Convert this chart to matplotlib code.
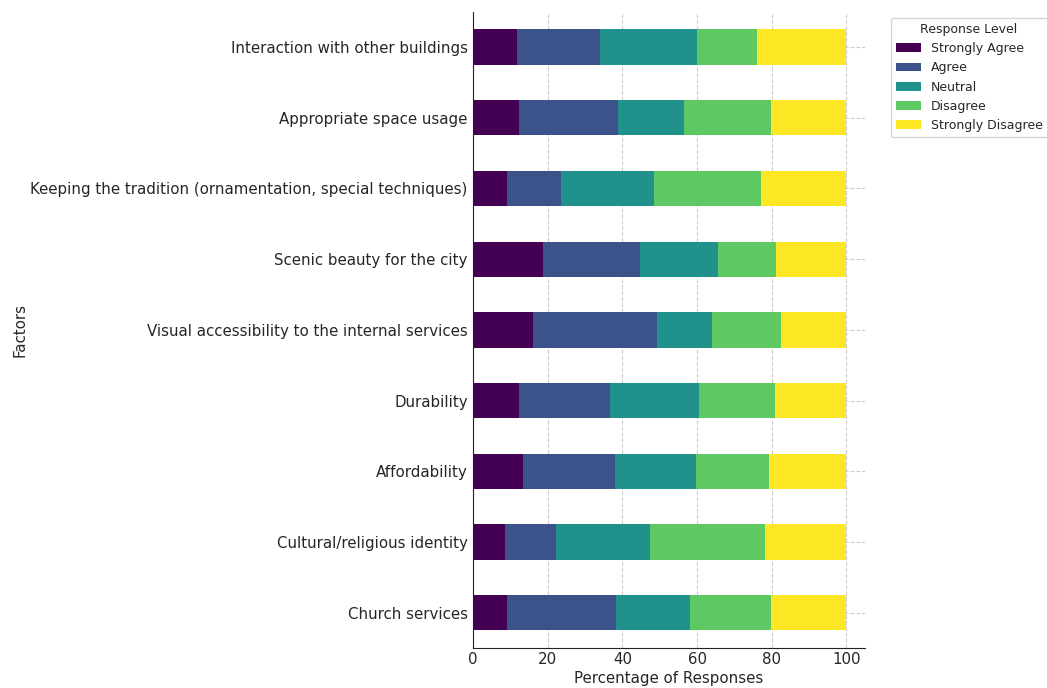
import matplotlib
matplotlib.use("Agg")
import matplotlib.pyplot as plt
import numpy as np

factors = [
    "Church services",
    "Cultural/religious identity",
    "Affordability",
    "Durability",
    "Visual accessibility to the internal services",
    "Scenic beauty for the city",
    "Keeping the tradition (ornamentation, special techniques)",
    "Appropriate space usage",
    "Interaction with other buildings",
]
levels = ["Strongly Agree", "Agree", "Neutral", "Disagree", "Strongly Disagree"]

strongly_agree = [9.1, 8.5, 13.4, 12.2, 16.0, 18.7, 9.1, 12.2, 11.7]
agree = [29.2, 13.8, 24.6, 24.6, 33.2, 26.0, 14.3, 26.6, 22.3]
neutral = [19.8, 25.1, 21.7, 23.7, 14.7, 20.8, 25.0, 17.7, 26.1]
disagree = [21.8, 30.8, 19.7, 20.3, 18.5, 15.8, 28.7, 23.3, 16.1]
strongly_disagree = [20.1, 21.8, 20.6, 19.2, 17.6, 18.7, 22.9, 20.2, 23.8]

series = [strongly_agree, agree, neutral, disagree, strongly_disagree]
colors = ["#440154", "#3b528b", "#21918c", "#5ec962", "#fde725"]

text_color = "#262626"
plt.rcParams["text.color"] = text_color
plt.rcParams["axes.labelcolor"] = text_color
plt.rcParams["xtick.color"] = text_color
plt.rcParams["ytick.color"] = text_color

fig = plt.figure(figsize=(10.47, 6.88), dpi=100)
ax = fig.add_axes([0.452, 0.058, 0.374, 0.925])

y = np.arange(len(factors))
left = np.zeros(len(factors))
for name, vals, col in zip(levels, series, colors):
    vals = np.array(vals)
    ax.barh(y, vals, left=left, height=0.5, color=col, label=name, zorder=2)
    left += vals

ax.set_yticks(y)
ax.set_yticklabels(factors, fontsize=10.8)
ax.set_ylim(-0.5, len(factors) - 0.5)
ax.set_xlim(0, 105)
ax.set_xticks([0, 20, 40, 60, 80, 100])
ax.tick_params(axis="x", labelsize=10.8, length=0, pad=3)
ax.tick_params(axis="y", length=0, pad=4)
ax.set_xlabel("Percentage of Responses", fontsize=10.8, labelpad=3)
ax.set_ylabel("Factors", fontsize=10.8, labelpad=2)
ax.grid(True, linestyle="--", color="#cccccc", linewidth=0.8, zorder=0)
ax.set_axisbelow(True)
for s in ["top", "right"]:
    ax.spines[s].set_visible(False)
for s in ["left", "bottom"]:
    ax.spines[s].set_color("#222222")

ax.legend(title="Response Level", loc="upper left", bbox_to_anchor=(1.05, 1.0),
          fontsize=9, title_fontsize=9)

fig.savefig("out.png", dpi=100)
